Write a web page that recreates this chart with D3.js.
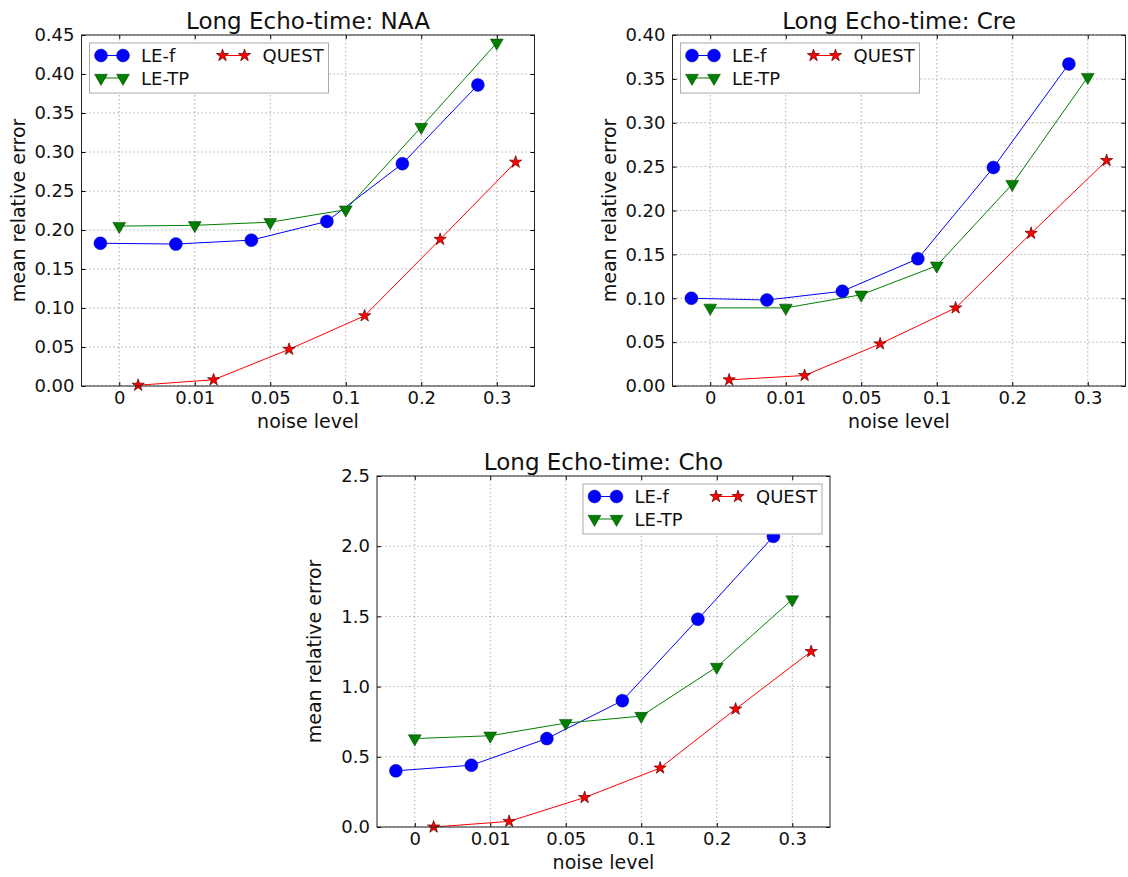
<!DOCTYPE html>
<html>
<head>
<meta charset="utf-8">
<script src="https://cdn.jsdelivr.net/npm/d3@7"></script>
<style>
  body { margin: 0; background: #fff; }
  svg { font-family: "DejaVu Sans", sans-serif; }
</style>
</head>
<body>
<svg id="chart" width="1128" height="877"></svg>
<script>
// categories on the x axis (noise level)
const noiseLevels = ["0", "0.01", "0.05", "0.1", "0.2", "0.3"];
const seriesNames = ["LE-f", "LE-TP", "QUEST"];

// NAA
const naaLEf   = [0.183, 0.182, 0.187, 0.211, 0.285, 0.386];
const naaLETP  = [0.205, 0.206, 0.210, 0.226, 0.332, 0.440];
const naaQUEST = [0.001, 0.008, 0.047, 0.090, 0.188, 0.287];
const naaTicks = [0, 0.05, 0.10, 0.15, 0.20, 0.25, 0.30, 0.35, 0.40, 0.45];

// Cre
const creLEf   = [0.100, 0.098, 0.108, 0.145, 0.249, 0.367];
const creLETP  = [0.089, 0.089, 0.104, 0.137, 0.230, 0.352];
const creQUEST = [0.007, 0.012, 0.048, 0.089, 0.174, 0.257];
const creTicks = [0, 0.05, 0.10, 0.15, 0.20, 0.25, 0.30, 0.35, 0.40];

// Cho
const choLEf   = [0.40, 0.44, 0.63, 0.90, 1.48, 2.07];
const choLETP  = [0.63, 0.65, 0.74, 0.79, 1.14, 1.62];
const choQUEST = [0.00, 0.04, 0.21, 0.42, 0.84, 1.25];
const choTicks = [0, 0.5, 1.0, 1.5, 2.0, 2.5];

const svg = d3.select("#chart");

// series look: colour, marker, x offset inside a category
const styles = [
  { color: "#0000ff", edge: "#000080", shape: "circle", offset: -0.25 },
  { color: "#007f00", edge: "#003a00", shape: "tri", offset: 0 },
  { color: "#ff0000", edge: "#5a0000", shape: "star", offset: 0.25 }
];

function marker(g, shape, x, y, st) {
  if (shape === "circle") {
    g.append("circle").attr("cx", x).attr("cy", y).attr("r", 6.5)
      .attr("fill", st.color).attr("stroke", st.edge).attr("stroke-width", 0.4);
  } else if (shape === "tri") {
    g.append("path").attr("d", d3.symbol(d3.symbolTriangle, 72)())
      .attr("transform", `translate(${x},${y}) rotate(180)`)
      .attr("fill", st.color).attr("stroke", st.edge).attr("stroke-width", 0.5);
  } else {
    g.append("path").attr("d", d3.symbol(d3.symbolStar, 47)())
      .attr("transform", `translate(${x},${y})`)
      .attr("fill", st.color).attr("stroke", st.edge).attr("stroke-width", 0.7);
  }
}

function drawPanel(p) {
  const x = d3.scaleLinear().domain([-0.5, noiseLevels.length - 0.5]).range([p.left, p.right]);
  const y = d3.scaleLinear().domain([0, p.ymax]).range([p.bottom, p.top]);
  const g = svg.append("g");

  // grid
  const grid = g.append("g").attr("stroke", "#999").attr("stroke-width", 0.8)
    .attr("stroke-dasharray", "1.5,2.5");
  noiseLevels.forEach((d, i) => {
    grid.append("line").attr("x1", x(i)).attr("x2", x(i))
      .attr("y1", p.top).attr("y2", p.bottom);
  });
  p.ticks.forEach(t => {
    grid.append("line").attr("x1", p.left).attr("x2", p.right)
      .attr("y1", y(t)).attr("y2", y(t));
  });

  // axes (ticks inside, on all four sides)
  const yAxis = d3.axisLeft(y).tickValues(p.ticks).tickFormat(d3.format(p.fmt))
    .tickSizeInner(-4).tickSizeOuter(0).tickPadding(7);
  const yg = g.append("g").attr("transform", `translate(${p.left},0)`).call(yAxis);
  const yr = d3.axisRight(y).tickValues(p.ticks).tickFormat("").tickSizeInner(-4).tickSizeOuter(0);
  g.append("g").attr("transform", `translate(${p.right},0)`).call(yr);

  const xAxis = d3.axisBottom(x).tickValues(d3.range(noiseLevels.length))
    .tickFormat(i => noiseLevels[i]).tickSizeInner(-4).tickSizeOuter(0).tickPadding(5.5);
  const xg = g.append("g").attr("transform", `translate(0,${p.bottom})`).call(xAxis);
  const xt = d3.axisTop(x).tickValues(d3.range(noiseLevels.length)).tickFormat("")
    .tickSizeInner(-4).tickSizeOuter(0);
  g.append("g").attr("transform", `translate(0,${p.top})`).call(xt);

  g.selectAll(".domain").remove();
  g.selectAll(".tick line").attr("stroke", "#000");
  [yg, xg].forEach(a => a.selectAll("text")
    .attr("font-size", 18).attr("fill", "#111").attr("font-family", "DejaVu Sans"));

  // series
  const series = [p.lef, p.letp, p.quest];
  series.forEach((vals, s) => {
    const st = styles[s];
    const line = d3.line().x((d, i) => x(i + st.offset)).y(d => y(d));
    g.append("path").datum(vals).attr("d", line)
      .attr("fill", "none").attr("stroke", st.color).attr("stroke-width", 1);
  });
  series.forEach((vals, s) => {
    const st = styles[s];
    const mg = g.append("g");
    vals.forEach((v, i) => marker(mg, st.shape, x(i + st.offset), y(v), st));
  });

  // frame
  g.append("rect").attr("x", p.left).attr("y", p.top)
    .attr("width", p.right - p.left).attr("height", p.bottom - p.top)
    .attr("fill", "none").attr("stroke", "#222").attr("stroke-width", 1);

  // title and labels
  g.append("text").attr("x", (p.left + p.right) / 2).attr("y", p.top - 6)
    .attr("text-anchor", "middle").attr("font-size", 23).attr("fill", "#111").text(p.title);
  g.append("text").attr("x", (p.left + p.right) / 2).attr("y", p.bottom + 42)
    .attr("text-anchor", "middle").attr("font-size", 19).attr("fill", "#111").text("noise level");
  g.append("text")
    .attr("transform", `translate(${p.left - 56.5},${(p.top + p.bottom) / 2}) rotate(-90)`)
    .attr("text-anchor", "middle").attr("font-size", 19).attr("fill", "#111")
    .text("mean relative error");

  // legend
  const lw = 239, lh = 50;
  const lx = p.legendRight ? p.right - 8 - lw : p.left + 8;
  const ly = p.top + 8;
  const lg = g.append("g").attr("transform", `translate(${lx},${ly})`);
  lg.append("rect").attr("width", lw).attr("height", lh)
    .attr("fill", "#fff").attr("stroke", "#aaa").attr("stroke-width", 1);
  const slots = [[0, 0], [0, 1], [1, 0]];
  seriesNames.forEach((name, s) => {
    const st = styles[s];
    const cx = slots[s][0] ? 133 : 11.5;
    const cy = 12.5 + slots[s][1] * 22.5;
    lg.append("line").attr("x1", cx).attr("x2", cx + 22).attr("y1", cy).attr("y2", cy)
      .attr("stroke", st.color).attr("stroke-width", 1);
    marker(lg, st.shape, cx, cy, st);
    marker(lg, st.shape, cx + 22, cy, st);
    lg.append("text").attr("x", cx + 40).attr("y", cy + 6.5)
      .attr("font-size", 18).attr("fill", "#111").text(name);
  });
}

drawPanel({ title: "Long Echo-time: NAA", left: 81.5, right: 534.5, top: 35, bottom: 386,
  ymax: 0.45, ticks: naaTicks, fmt: ".2f", lef: naaLEf, letp: naaLETP, quest: naaQUEST });
drawPanel({ title: "Long Echo-time: Cre", left: 672.5, right: 1125.5, top: 35, bottom: 386,
  ymax: 0.40, ticks: creTicks, fmt: ".2f", lef: creLEf, letp: creLETP, quest: creQUEST });
drawPanel({ title: "Long Echo-time: Cho", left: 377, right: 830, top: 476, bottom: 827,
  ymax: 2.5, ticks: choTicks, fmt: ".1f", lef: choLEf, letp: choLETP, quest: choQUEST,
  legendRight: true });
</script>
</body>
</html>
